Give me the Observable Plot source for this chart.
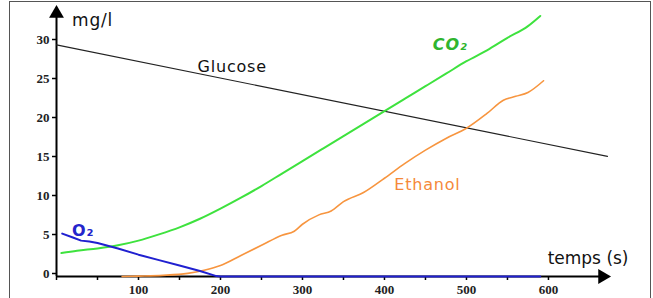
<!DOCTYPE html>
<html>
<head>
<meta charset="utf-8">
<script src="https://cdn.jsdelivr.net/npm/d3@7"></script>
<script src="https://cdn.jsdelivr.net/npm/@observablehq/plot@0.6"></script>
<style>
  body { margin: 0; background: #fff; }
  #wrap { position: relative; width: 653px; height: 298px; overflow: hidden; }
  #frame { position: absolute; left: 9px; top: 1px; width: 640px; height: 310px;
           border: 1px solid #555; border-bottom: none; pointer-events: none; }
  #chart { position: absolute; left: 0; top: 0; }
  #chart .lbl { letter-spacing: 0.8px; }
</style>
</head>
<body>
<div id="wrap"><div id="chart"></div><div id="frame"></div></div>
<script>
// ---- data ----
const glucoseT = [0, 672];
const glucoseV = [29.7, 15.4];

const co2T = [6, 25, 50, 75, 100, 125, 150, 175, 200, 225, 250, 275, 300, 325, 350, 375, 400, 425, 450, 475, 500, 525, 550, 575, 590];
const co2V = [3.0, 3.3, 3.6, 4.0, 4.6, 5.4, 6.3, 7.4, 8.7, 10.1, 11.6, 13.2, 14.8, 16.4, 18.0, 19.6, 21.2, 22.8, 24.4, 26.0, 27.6, 29.0, 30.6, 32.1, 33.4];

const ethanolT = [80, 100, 130, 160, 180, 200, 225, 250, 275, 290, 300, 320, 335, 350, 375, 400, 425, 450, 475, 500, 525, 545, 560, 575, 594];
const ethanolV = [0.0, 0.05, 0.15, 0.4, 0.8, 1.4, 2.7, 4.0, 5.3, 5.8, 6.7, 7.9, 8.4, 9.6, 10.8, 12.6, 14.5, 16.2, 17.7, 19.0, 20.9, 22.6, 23.1, 23.6, 25.1];

const o2T = [7, 20, 30, 40, 50, 75, 100, 125, 150, 175, 195, 200, 590];
const o2V = [5.5, 5.0, 4.6, 4.5, 4.3, 3.6, 2.8, 2.1, 1.4, 0.7, 0.05, 0, 0];

const xTicks = [0, 50, 100, 150, 200, 250, 300, 350, 400, 450, 500, 550, 600];
const xTickLabels = ["", "", "100", "", "200", "", "300", "", "400", "", "500", "", "600"];
const yTicks = [0, 5, 10, 15, 20, 25, 30];
const yTickLabels = ["0", "5", "10", "15", "20", "25", "30"];

const seriesNames = ["Glucose", "CO₂", "Ethanol", "O₂"];
const axisTitles = ["mg/l", "temps (s)"];

// ---- build tables ----
const zip = (t, v) => t.map((x, i) => ({t: x, v: v[i]}));
const glucose = zip(glucoseT, glucoseV);
const co2 = zip(co2T, co2V);
const ethanol = zip(ethanolT, ethanolV);
const o2 = zip(o2T, o2V);

const xMax = 672, yMax = 34.36;
const labelFont = "DejaVu Sans, sans-serif";
const tickFont = "Liberation Serif, serif";

const annotations = [
  {t: 172, v: 26.9, text: seriesNames[0], color: "#111", weight: "normal", style: "normal"},
  {t: 459, v: 29.7, text: seriesNames[1], color: "#2fb52f", weight: "bold", style: "italic"},
  {t: 412, v: 11.8, text: seriesNames[2], color: "#f5893a", weight: "normal", style: "normal"},
  {t: 19, v: 5.9, text: seriesNames[3], color: "#2525cc", weight: "bold", style: "normal"}
];

const chart = Plot.plot({
  width: 653,
  height: 298,
  marginLeft: 56,
  marginRight: 46,
  marginTop: 8,
  marginBottom: 22,
  x: {domain: [0, xMax], label: null},
  y: {domain: [0, yMax], label: null},
  style: {background: "transparent", overflow: "visible"},
  marks: [
    // x ticks
    Plot.axisX({ticks: xTicks, tickSize: 4, tickPadding: 4, label: null,
      tickFormat: (d) => xTickLabels[xTicks.indexOf(d)],
      fontFamily: tickFont, fontWeight: "bold", fontSize: 13, stroke: "#000", strokeWidth: 1.5, fill: "#222"}),
    // y ticks
    Plot.axisY({ticks: yTicks, tickSize: 4, tickPadding: 3, label: null,
      tickFormat: (d) => yTickLabels[yTicks.indexOf(d)],
      fontFamily: tickFont, fontWeight: "bold", fontSize: 13, stroke: "#000", strokeWidth: 1.5, fill: "#222", dy: -3}),
    // axis lines
    Plot.ruleY([0], {x1: 0, x2: xMax - 8, stroke: "#000", strokeWidth: 2}),
    Plot.ruleX([0], {y1: 0, y2: yMax - 1, stroke: "#000", strokeWidth: 2}),
    // arrowheads
    Plot.dot([0], {x: xMax, y: 0, symbol: "triangle", r: 5.5, fill: "#000", rotate: 90, dx: -5}),
    Plot.dot([0], {x: 0, y: yMax, symbol: "triangle", r: 5.5, fill: "#000", dy: 5}),
    // series
    Plot.line(glucose, {x: "t", y: "v", stroke: "#222", strokeWidth: 1.1}),
    Plot.line(co2, {x: "t", y: "v", stroke: "#3ee23e", strokeWidth: 2, curve: "monotone-x"}),
    Plot.line(ethanol, {x: "t", y: "v", stroke: "#f7953f", strokeWidth: 1.6, curve: "monotone-x"}),
    Plot.line(o2, {x: "t", y: "v", stroke: "#2020d0", strokeWidth: 2}),
    // series labels
    ...annotations.map((a) => Plot.text([a], {x: "t", y: "v", text: "text", fill: a.color, textAnchor: "start",
      fontFamily: labelFont, fontSize: 16, fontWeight: a.weight, fontStyle: a.style, className: "lbl"})),
    // axis titles
    Plot.text([axisTitles[0]], {x: 19, y: 32.8, text: (d) => d, textAnchor: "start",
      fontFamily: labelFont, fontSize: 17, fill: "#111", className: "lbl"}),
    Plot.text([axisTitles[1]], {x: 599, y: 2.3, text: (d) => d, textAnchor: "start",
      fontFamily: labelFont, fontSize: 17, fill: "#111"})
  ]
});
document.getElementById("chart").appendChild(chart);
</script>
</body>
</html>
